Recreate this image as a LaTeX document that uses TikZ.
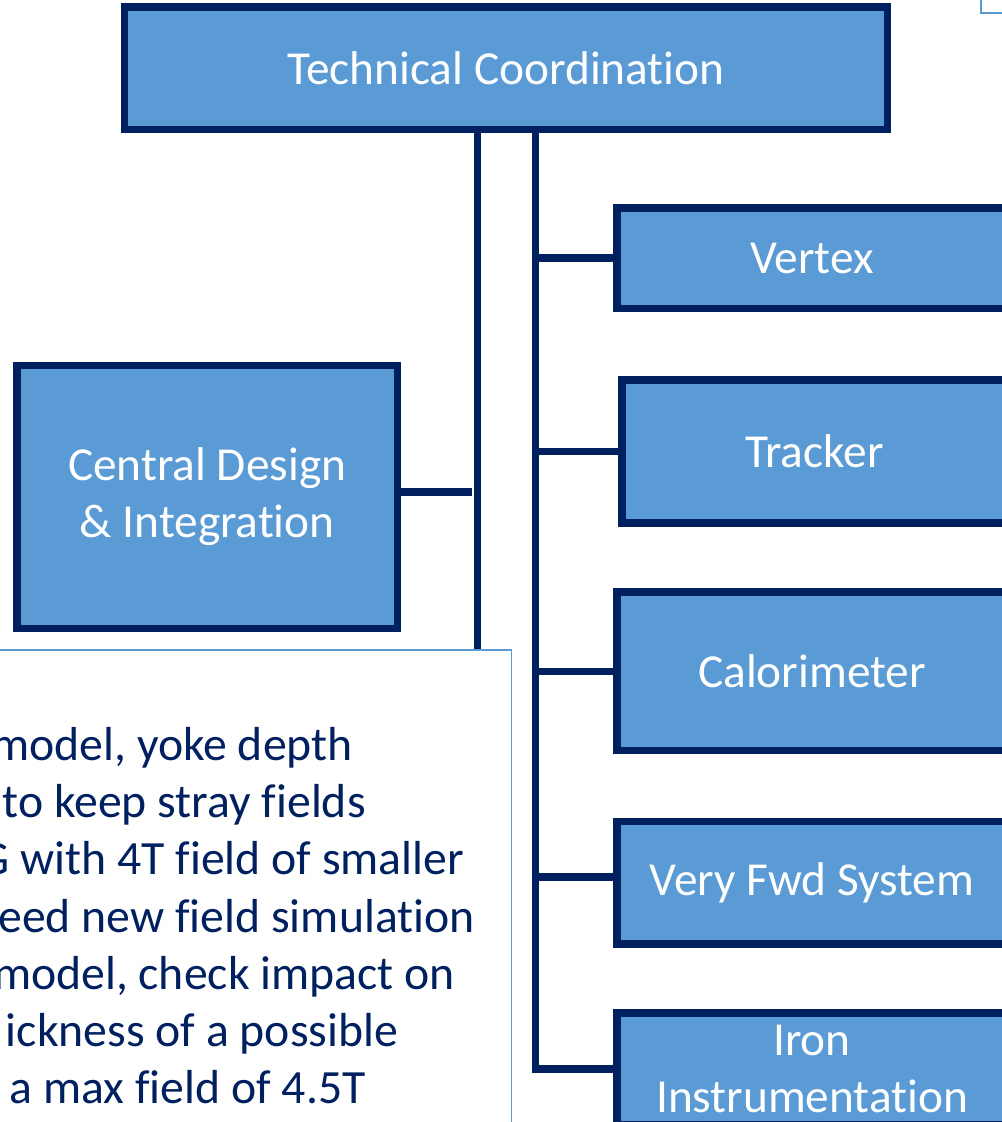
\documentclass[tikz,border=0pt]{standalone}
\usepackage{fontspec}
\setmainfont{Carlito}[RawFeature={-liga;-clig;-calt;-dlig}]
\usepackage{xcolor}
\usetikzlibrary{positioning}

\definecolor{navy}{RGB}{0,32,96}
\definecolor{boxblue}{RGB}{91,155,213}
\definecolor{noteblue}{RGB}{91,155,213}

\tikzset{
  unit/.style={draw=navy, fill=boxblue, line width=5.6pt, text=white, align=center,
    inner sep=0pt, font=\fontsize{35.5}{42.75}\selectfont},
  link/.style={draw=navy, line width=5.7pt},
  notebox/.style={draw=noteblue, line width=1.1pt},
  noteline/.style={anchor=base east, text=navy, inner sep=0pt, font=\fontsize{35.8}{43}\selectfont}
}

\begin{document}
\begin{tikzpicture}[x=0.75pt, y=-0.75pt]
    \useasboundingbox (0,0) rectangle (1002,1122);

    \node[unit, minimum width=571.9pt, minimum height=92pt] (tech) at (506,68.3) {Technical Coordination};
    \node[unit, minimum width=285.2pt, minimum height=196.9pt] (central) at (207.2,497) {Central Design\\\& Integration};

    \node[unit, minimum width=292.5pt, minimum height=75.4pt] (vertex) at (812,258.2) {Vertex};
    \node[unit, minimum width=288.8pt, minimum height=107.3pt] (tracker) at (814.5,451.5) {Tracker};
    \node[unit, minimum width=292.5pt, minimum height=118.9pt] (calo) at (812,671.3) {Calorimeter};
    \node[unit, minimum width=292.5pt, minimum height=91.9pt] (vfwd) at (812,882.7) {Very Fwd System};
    \node[unit, minimum width=292.5pt, minimum height=83.8pt] (iron) at (812,1069) {Iron\\Instrumentation};

    \coordinate (trunkA) at (477.5,1140);
    \coordinate (trunkB) at (535.5,1067);
    \coordinate (vfwdin) at ([yshift=4.3pt]vfwd.west);
    \coordinate (centralout) at ([yshift=3.7pt]central.east);

    % trunks
    \draw[link] (tech.south -| trunkA) -- (trunkA);
    \draw[link] (tech.south -| trunkB) |- (iron.west);

    % branches
    \draw[link] (vertex.west -| trunkB) -- (vertex.west);
    \draw[link] (tracker.west -| trunkB) -- (tracker.west);
    \draw[link] (calo.west -| trunkB) -- (calo.west);
    \draw[link] (vfwdin -| trunkB) -- (vfwdin);
    \draw[link, shorten >=4.3pt] (centralout) -- (centralout -| trunkA);

    % notes
    \draw[notebox, fill=white] (-20,650) rectangle (511.7,1150);
    \draw[notebox] (981,-20) rectangle (1040,13);

    \node[noteline] (note1) at (353,760) {model, yoke depth};
    \node[noteline] (note2) at (366,817) {to keep stray fields};
    \node[noteline] (note3) at (464.5,874) {G with 4T field of smaller};
    \node[noteline] (note4) at (475,932) {eed new field simulation};
    \node[noteline] (note5) at (455,989) {model, check impact on};
    \node[noteline] (note6) at (398.5,1046) {ickness of a possible};
    \node[noteline] (note7) at (366,1103) {a max field of 4.5T};
\end{tikzpicture}
\end{document}
